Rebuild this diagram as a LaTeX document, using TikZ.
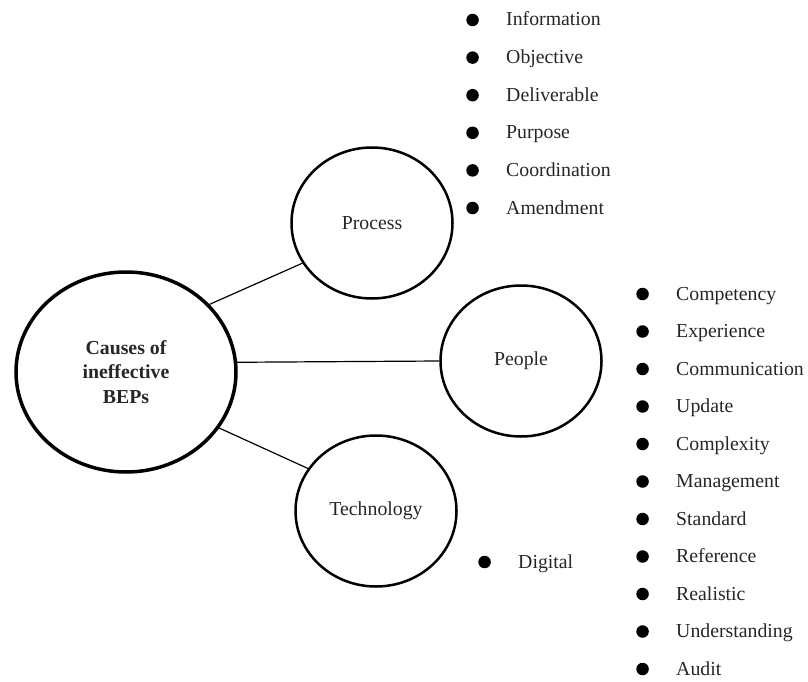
\documentclass[tikz,border=0pt]{standalone}
\usepackage{fontspec}
\setmainfont{Liberation Serif}
\usetikzlibrary{shapes.geometric}

\begin{document}
\begin{tikzpicture}
[-,x=1pt,y=-1pt,label distance=27pt,%
  every node/.style={font=\fontsize{19.8}{24}\selectfont,text=black!85},%
  cause/.style={shape=ellipse,draw,line width=3.5pt,minimum width=220pt,minimum height=200pt,align=center,font=\fontsize{19.8}{24.5}\selectfont\bfseries},%
  factor/.style={shape=ellipse,draw,line width=2.5pt,minimum width=161pt,minimum height=151pt},%
  item/.style={anchor=west,inner sep=0pt,text height=13pt,text depth=1pt,label={[shape=circle,fill=black,inner sep=0pt,minimum size=12.5pt]left:{}}},%
  link/.style={line width=1.2pt}]
\useasboundingbox (0,0) rectangle (808,682);
\node[cause] (bep) at (126,372) {Causes of\\ineffective\\BEPs};
\node[factor] (proc) at (372,223) {Process};
\node[factor] (ppl) at (521,361) {People};
\node[factor] (tech) at (376,511) {Technology};
\draw[link] (bep.39) -- (proc.210);
\draw[link] (bep.5) -- (ppl.180);
\draw[link] (bep.-31) -- (tech.148);
\node[item] (inf) at (506,20) {Information};
\node[item] (obj) at (506,57.6) {Objective};
\node[item] (del) at (506,95.2) {Deliverable};
\node[item] (pur) at (506,132.8) {Purpose};
\node[item] (coo) at (506,170.4) {Coordination};
\node[item] (ame) at (506,208) {Amendment};
\node[item] (com) at (676,294) {Competency};
\node[item] (exp) at (676,331.5) {Experience};
\node[item] (cmm) at (676,369) {Communication};
\node[item] (upd) at (676,406.5) {Update};
\node[item] (cpx) at (676,444) {Complexity};
\node[item] (man) at (676,481.5) {Management};
\node[item] (sta) at (676,519) {Standard};
\node[item] (ref) at (676,556.5) {Reference};
\node[item] (rea) at (676,594) {Realistic};
\node[item] (und) at (676,631.5) {Understanding};
\node[item] (aud) at (676,669) {Audit};
\node[item] (dig) at (518,562) {Digital};
\end{tikzpicture}
\end{document}
